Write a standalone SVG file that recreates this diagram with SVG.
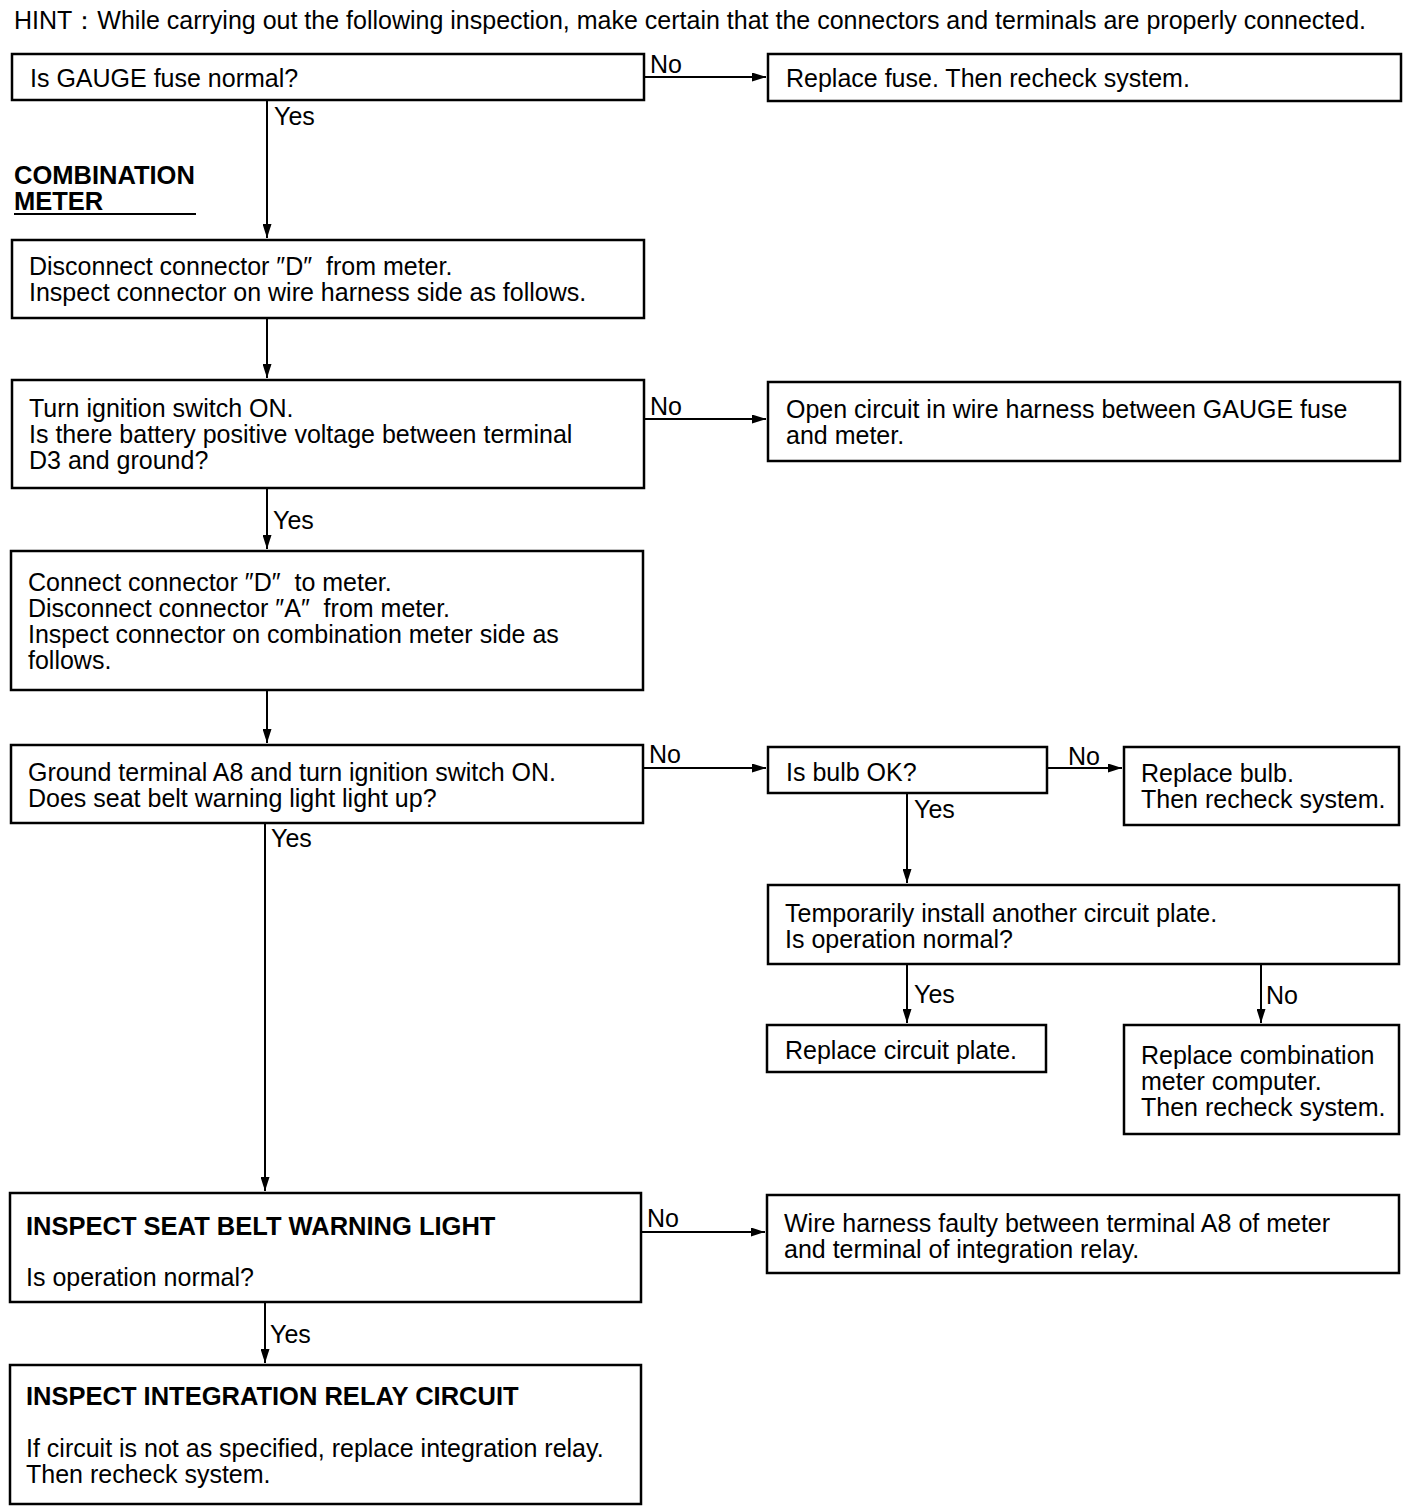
<svg xmlns="http://www.w3.org/2000/svg" width="1408" height="1512" viewBox="0 0 1408 1512">
<style>
text{font-family:"Liberation Sans",Arial,sans-serif;font-size:25px;fill:#000}
.b{font-weight:bold;font-size:25.5px}
.n rect{fill:#fff;stroke:#000;stroke-width:2.5}
.c line{stroke:#000;stroke-width:2}
</style>
<defs>
<marker id="ah" viewBox="0 0 14 9" refX="14" refY="4.5" markerWidth="14" markerHeight="9" markerUnits="userSpaceOnUse" orient="auto">
<path d="M0,0L14,4.5L0,9z" fill="#000"/>
</marker>
</defs>
<rect width="1408" height="1512" fill="#fff"/>
<text x="14" y="29">HINT：While carrying out the following inspection, make certain that the connectors and terminals are properly connected.</text>
<g id="title"><text class="b" x="14" y="184">COMBINATION</text><text class="b" x="14" y="210">METER</text><line x1="14" y1="214" x2="196" y2="214" stroke="#000" stroke-width="2"/></g>
<g class="c" id="connectors">
<line x1="644" y1="77" x2="766" y2="77" marker-end="url(#ah)"/>
<line x1="267" y1="100" x2="267" y2="238" marker-end="url(#ah)"/>
<line x1="267" y1="318" x2="267" y2="378" marker-end="url(#ah)"/>
<line x1="644" y1="419" x2="766" y2="419" marker-end="url(#ah)"/>
<line x1="267" y1="488" x2="267" y2="549" marker-end="url(#ah)"/>
<line x1="267" y1="690" x2="267" y2="743" marker-end="url(#ah)"/>
<line x1="643" y1="768" x2="766" y2="768" marker-end="url(#ah)"/>
<line x1="1047" y1="768" x2="1122" y2="768" marker-end="url(#ah)"/>
<line x1="907" y1="793" x2="907" y2="883" marker-end="url(#ah)"/>
<line x1="907" y1="964" x2="907" y2="1023" marker-end="url(#ah)"/>
<line x1="1261" y1="964" x2="1261" y2="1023" marker-end="url(#ah)"/>
<line x1="265" y1="823" x2="265" y2="1191" marker-end="url(#ah)"/>
<line x1="641" y1="1232" x2="765" y2="1232" marker-end="url(#ah)"/>
<line x1="265" y1="1302" x2="265" y2="1363" marker-end="url(#ah)"/>
<text x="650" y="73">No</text>
<text x="274" y="125">Yes</text>
<text x="650" y="415">No</text>
<text x="273" y="529">Yes</text>
<text x="649" y="763">No</text>
<text x="1068" y="765">No</text>
<text x="914" y="818">Yes</text>
<text x="914" y="1003">Yes</text>
<text x="1266" y="1004">No</text>
<text x="271" y="847">Yes</text>
<text x="647" y="1227">No</text>
<text x="270" y="1343">Yes</text>
</g>
<g class="n" id="n1"><rect x="12" y="54" width="632" height="46"/><text x="30" y="87">Is GAUGE fuse normal?</text></g>
<g class="n" id="n1no"><rect x="768" y="54" width="633" height="47"/><text x="786" y="87">Replace fuse. Then recheck system.</text></g>
<g class="n" id="n2"><rect x="12" y="240" width="632" height="78"/><text x="29" y="275">Disconnect connector ″D″&#160;&#160;from meter.</text><text x="29" y="301">Inspect connector on wire harness side as follows.</text></g>
<g class="n" id="n3"><rect x="12" y="380" width="632" height="108"/><text x="29" y="417">Turn ignition switch ON.</text><text x="29" y="443">Is there battery positive voltage between terminal</text><text x="29" y="469">D3 and ground?</text></g>
<g class="n" id="n3no"><rect x="768" y="382" width="632" height="79"/><text x="786" y="418">Open circuit in wire harness between GAUGE fuse</text><text x="786" y="444">and meter.</text></g>
<g class="n" id="n4"><rect x="11" y="551" width="632" height="139"/><text x="28" y="591">Connect connector ″D″&#160;&#160;to meter.</text><text x="28" y="617">Disconnect connector ″A″&#160;&#160;from meter.</text><text x="28" y="643">Inspect connector on combination meter side as</text><text x="28" y="669">follows.</text></g>
<g class="n" id="n5"><rect x="11" y="745" width="632" height="78"/><text x="28" y="781">Ground terminal A8 and turn ignition switch ON.</text><text x="28" y="807">Does seat belt warning light light up?</text></g>
<g class="n" id="bulb"><rect x="768" y="747" width="279" height="46"/><text x="786" y="781">Is bulb OK?</text></g>
<g class="n" id="rbulb"><rect x="1124" y="747" width="275" height="78"/><text x="1141" y="782">Replace bulb.</text><text x="1141" y="808">Then recheck system.</text></g>
<g class="n" id="plate"><rect x="768" y="885" width="631" height="79"/><text x="785" y="922">Temporarily install another circuit plate.</text><text x="785" y="948">Is operation normal?</text></g>
<g class="n" id="rplate"><rect x="767" y="1025" width="279" height="47"/><text x="785" y="1059">Replace circuit plate.</text></g>
<g class="n" id="rcomp"><rect x="1124" y="1025" width="275" height="109"/><text x="1141" y="1064">Replace combination</text><text x="1141" y="1090">meter computer.</text><text x="1141" y="1116">Then recheck system.</text></g>
<g class="n" id="n6"><rect x="10" y="1193" width="631" height="109"/><text class="b" x="26" y="1235">INSPECT SEAT BELT WARNING LIGHT</text><text x="26" y="1286">Is operation normal?</text></g>
<g class="n" id="n6no"><rect x="767" y="1195" width="632" height="78"/><text x="784" y="1232">Wire harness faulty between terminal A8 of meter</text><text x="784" y="1258">and terminal of integration relay.</text></g>
<g class="n" id="n7"><rect x="10" y="1365" width="631" height="139"/><text class="b" x="26" y="1405">INSPECT INTEGRATION RELAY CIRCUIT</text><text x="26" y="1457">If circuit is not as specified, replace integration relay.</text><text x="26" y="1483">Then recheck system.</text></g>
</svg>
